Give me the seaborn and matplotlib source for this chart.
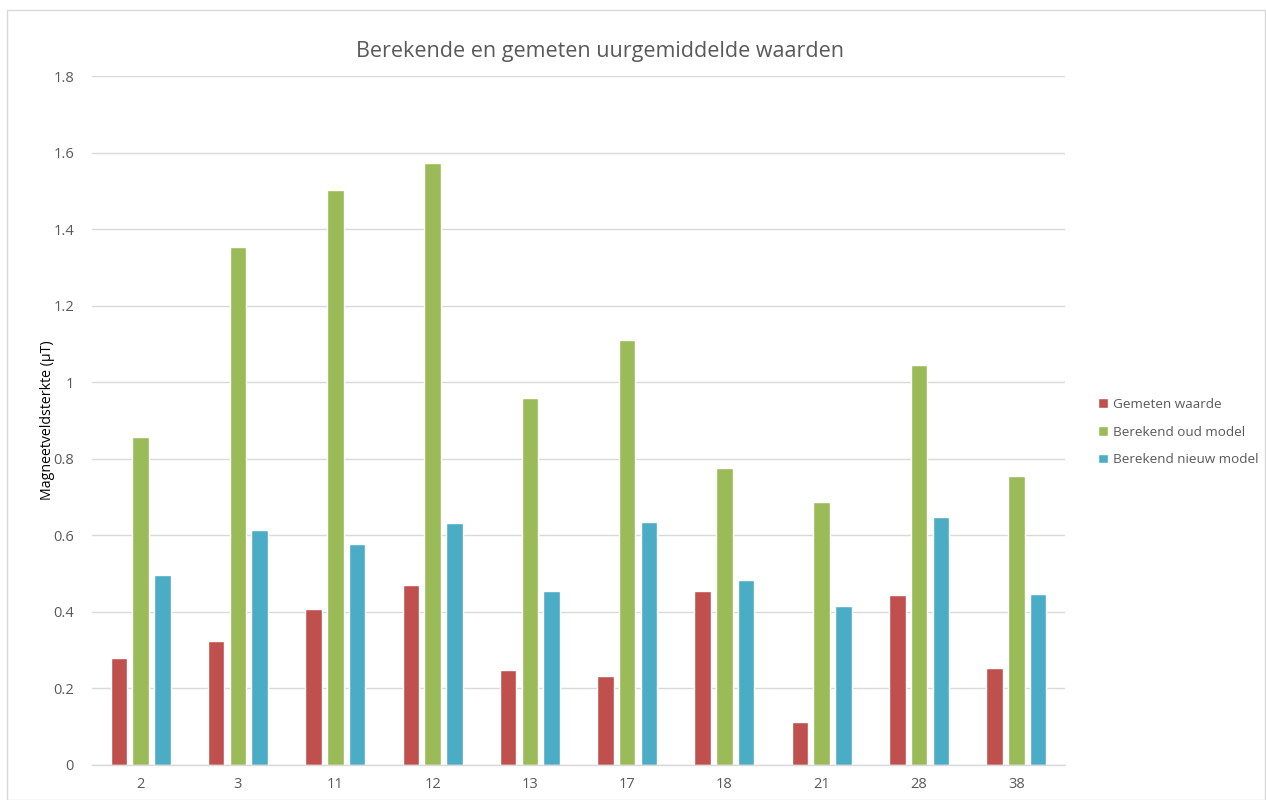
import matplotlib
matplotlib.use("Agg")
import matplotlib.pyplot as plt
import seaborn as sns
import pandas as pd
from matplotlib.patches import Rectangle

categories = ["2", "3", "11", "12", "13", "17", "18", "21", "28", "38"]
gemeten = [0.279, 0.324, 0.407, 0.470, 0.248, 0.233, 0.454, 0.112, 0.444, 0.253]
oud_model = [0.858, 1.354, 1.503, 1.573, 0.960, 1.109, 0.775, 0.686, 1.044, 0.754]
nieuw_model = [0.496, 0.613, 0.577, 0.631, 0.454, 0.634, 0.483, 0.415, 0.647, 0.446]
series_names = ["Gemeten waarde", "Berekend oud model", "Berekend nieuw model"]
colors = ["#C0504D", "#9BBB59", "#4BACC6"]
yticks = [0, 0.2, 0.4, 0.6, 0.8, 1, 1.2, 1.4, 1.6, 1.8]
ytick_labels = ["0", "0.2", "0.4", "0.6", "0.8", "1", "1.2", "1.4", "1.6", "1.8"]

rows = []
for name, vals in zip(series_names, [gemeten, oud_model, nieuw_model]):
    for c, v in zip(categories, vals):
        rows.append({"cat": c, "serie": name, "val": v})
df = pd.DataFrame(rows)

sns.set_theme(style="white")
plt.rcParams["font.family"] = ["Open Sans", "DejaVu Sans"]
txt = "#595959"

fig = plt.figure(figsize=(12.66, 8), dpi=100)
ax = fig.add_axes([92/1266, 1-765/800, (1065-92)/1266, (765-76)/800])

sns.barplot(data=df, x="cat", y="val", hue="serie", order=categories,
            hue_order=series_names, palette=colors, width=0.67, gap=0.24,
            saturation=1, ax=ax, legend=True, errorbar=None)

ax.set_xlim(-0.5, len(categories) - 0.5)
ax.set_ylim(0, 1.8)
ax.set_yticks(yticks)
ax.set_yticklabels(ytick_labels)
ax.yaxis.grid(True, color="#D9D9D9", linewidth=1)
ax.set_axisbelow(True)
for s in ["top", "right", "left"]:
    ax.spines[s].set_visible(False)
ax.spines["bottom"].set_color("#D9D9D9")
ax.spines["bottom"].set_linewidth(1)
ax.tick_params(axis="both", length=0, labelsize=10.5, labelcolor=txt)
ax.tick_params(axis="x", pad=9)
ax.tick_params(axis="y", pad=13)
ax.set_xlabel("")
ax.set_ylabel("Magneetveldsterkte (µT)", fontsize=10.2, color="#000000")
ax.yaxis.set_label_coords((55 - 92) / (1065 - 92), 0.5)

fig.text(600/1266, 1-51/800, "Berekende en gemeten uurgemiddelde waarden",
         ha="center", va="center", fontsize=15.5, color=txt)

handles, labels = ax.get_legend_handles_labels()
leg = ax.legend(handles, labels, loc="center left", bbox_to_anchor=(1086/1266, 1-432/800),
                bbox_transform=fig.transFigure, frameon=False, fontsize=9.7,
                handlelength=0.7, handleheight=0.7, handletextpad=0.4, labelspacing=1.1)
for t in leg.get_texts():
    t.set_color(txt)

fig.patches.append(Rectangle((7/1266, 0), 1 - 7/1266 - 0.0005, 1 - 10/800,
                             transform=fig.transFigure, fill=False,
                             edgecolor="#D9D9D9", linewidth=1))

fig.savefig("out.png", dpi=100)
